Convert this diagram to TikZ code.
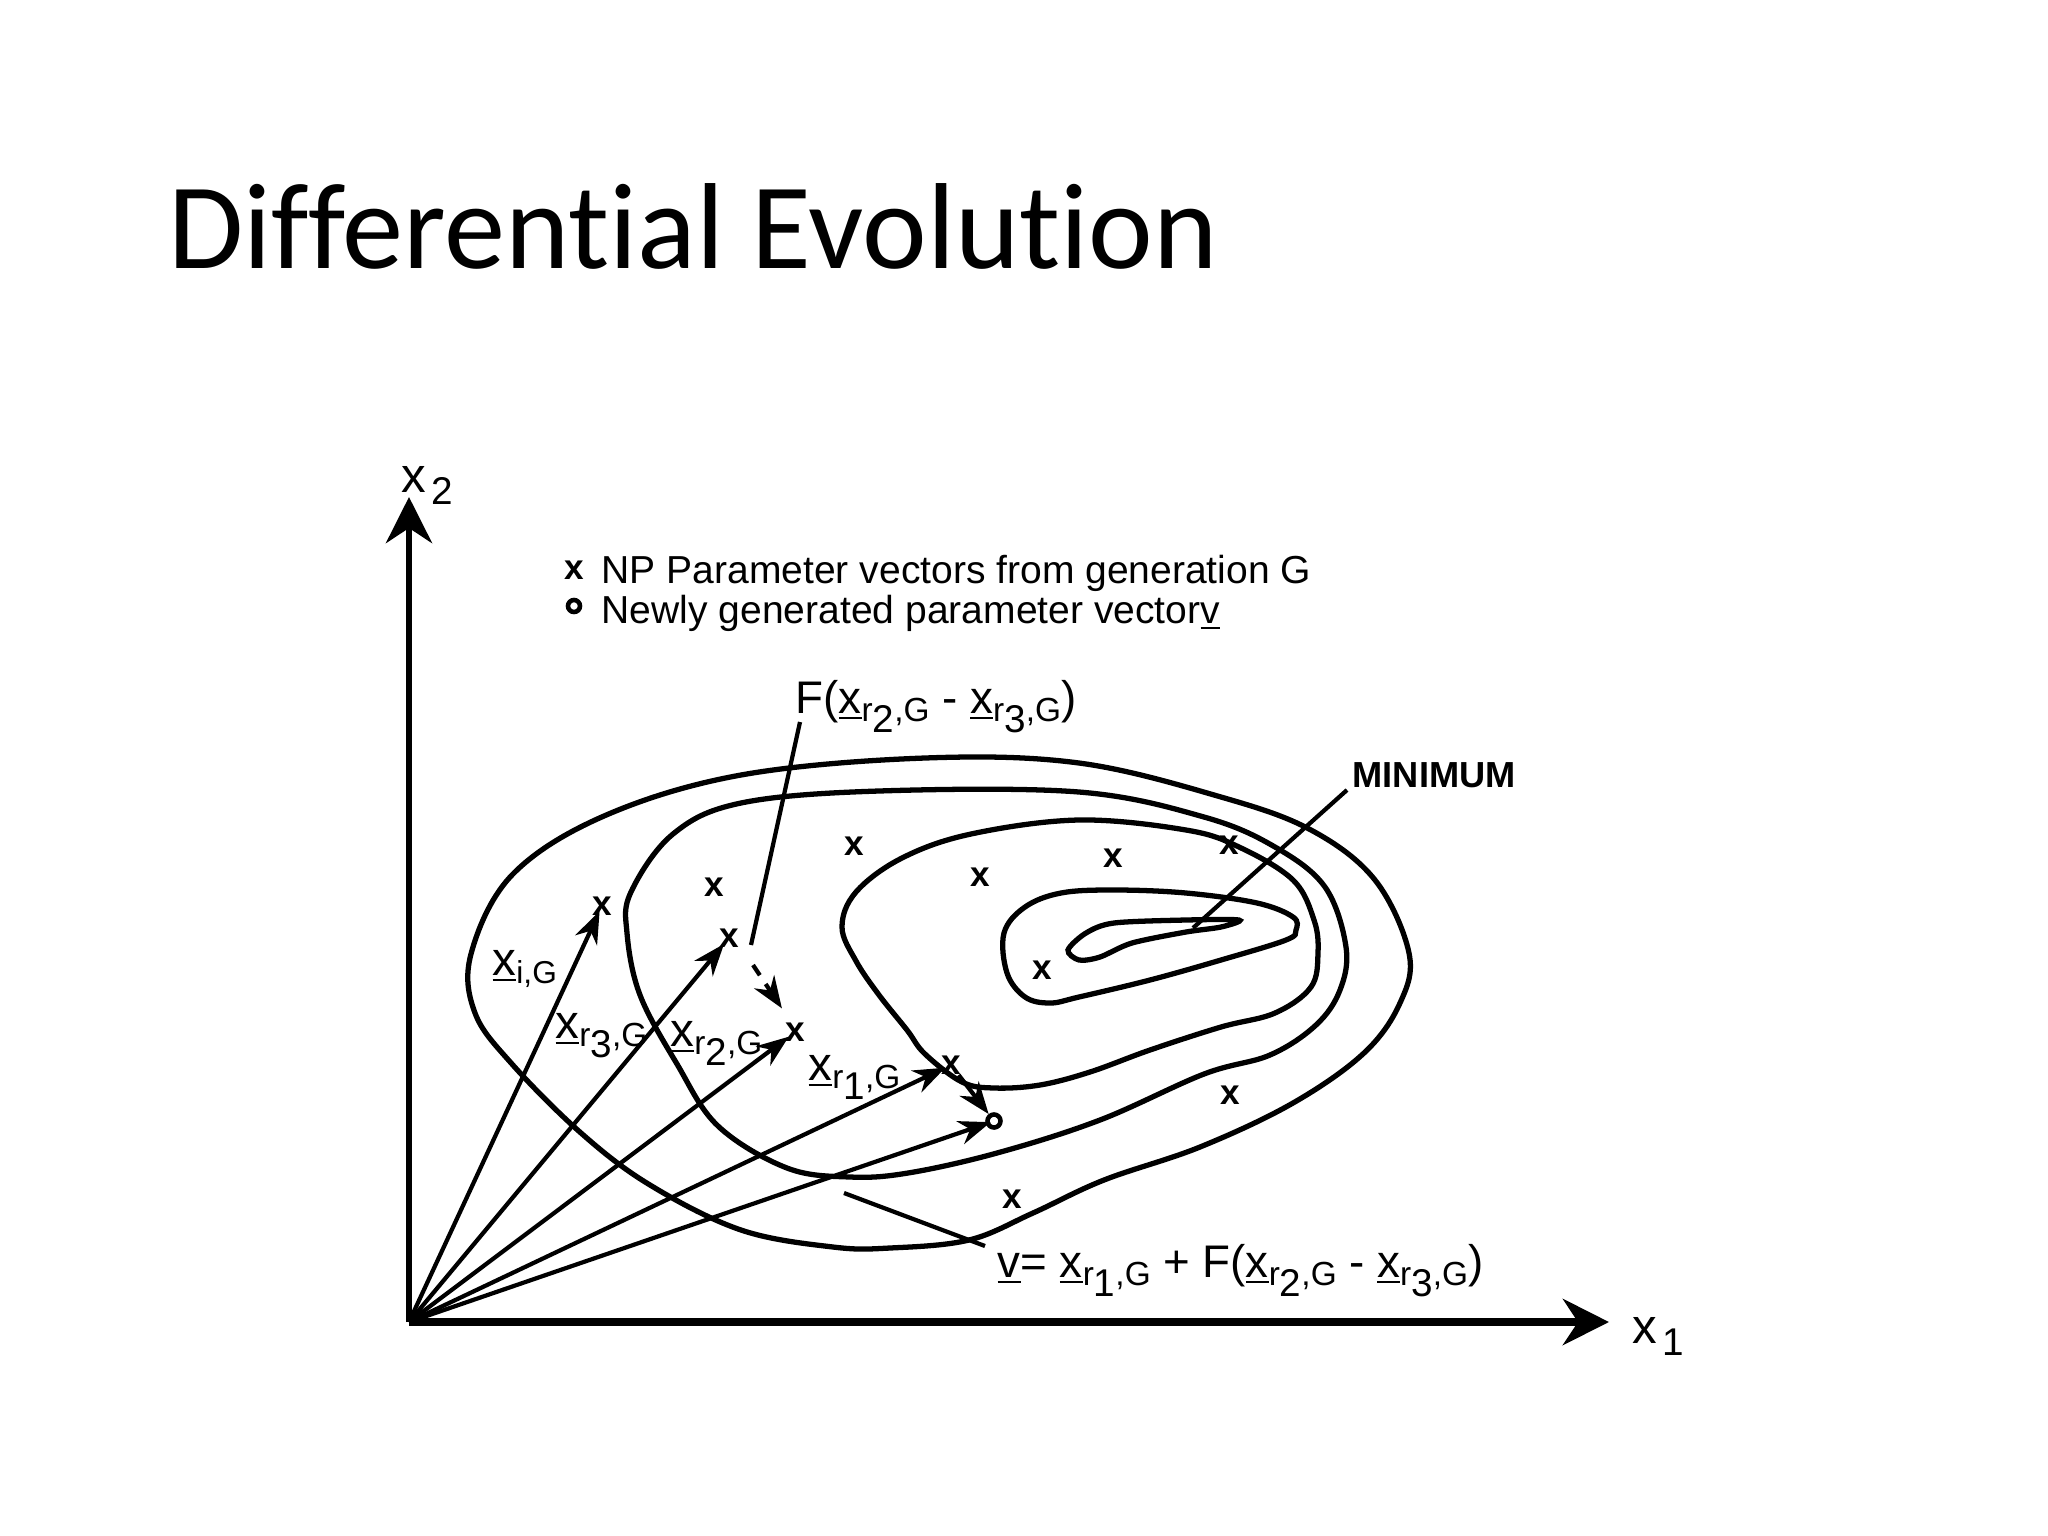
\documentclass[tikz,border=0pt]{standalone}
\usepackage{fontspec}
\setmainfont{Liberation Sans}
\newfontfamily\titlefont[Ligatures=NoCommon]{Carlito}
\usetikzlibrary{arrows.meta}

% underlined vector x with subscripts
\newcommand{\xsub}[1]{\underline{x}\raisebox{-2.4pt}{\fontsize{9}{9}\selectfont #1}}
\newcommand{\xr}[1]{\underline{x}\raisebox{-2.4pt}{\fontsize{9.5}{9.5}\selectfont r\raisebox{-3.2pt}{\fontsize{11}{11}\selectfont #1},G}}

\begin{document}
\begin{tikzpicture}[x=0.01cm, y=-0.01cm,
    popx/.style={font=\fontsize{10}{10}\selectfont\bfseries, inner sep=0pt},
    popo/.style={draw, circle, line width=1.3pt, inner sep=0pt, minimum size=1.3mm},
    contour/.style={line width=1.5pt},
    vec/.style={line width=1.2pt, shorten >=-1.5pt, -{Stealth[length=3.2mm,width=2.4mm]}},
    lbl/.style={font=\fontsize{13.5}{14}\selectfont, inner sep=0pt, anchor=base west}]
    \useasboundingbox (0,0) rectangle (2048,1536);

    % Title
    \node[anchor=base west, inner sep=0pt, font=\titlefont\fontsize{34.8}{40}\selectfont] (title) at (168,268) {Differential Evolution};

    % Axes
    \coordinate (O) at (409,1322);
    \coordinate (x2end) at (409,497);
    \coordinate (x1end) at (1609,1322);
    \draw[line width=1.8pt, -{Stealth[length=4.6mm,width=4.6mm,inset=1.5mm]}] (O) -- (x2end);
    \draw[line width=2.5pt, -{Stealth[length=4.6mm,width=4.6mm,inset=1.5mm]}] (O) -- (x1end);
    \node[anchor=base west, inner sep=0pt, font=\fontsize{14}{14}\selectfont] (x2lab) at (401,492) {x\kern1.5pt\raisebox{-3.5pt}{\fontsize{11}{11}\selectfont 2}};
    \node[anchor=base west, inner sep=0pt, font=\fontsize{14}{14}\selectfont] (x1lab) at (1632,1343) {x\kern1.5pt\raisebox{-3.5pt}{\fontsize{11}{11}\selectfont 1}};

    % Legend
    \node[popx] (lgx) at (574,570) {x};
    \node[popo, minimum size=1.2mm] (lgo) at (574,606) {};
    \node[anchor=base west, inner sep=0pt, font=\fontsize{11.1}{12}\selectfont] (lg1) at (601,583) {NP Parameter vectors from generation G};
    \node[anchor=base west, inner sep=0pt, font=\fontsize{11.1}{12}\selectfont] (lg2) at (601,623) {Newly generated parameter vector\underline{v}};

    % Contour lines
    \draw[contour] plot[smooth cycle, tension=0.6] coordinates {(925,758) (1079,763) (1221,797) (1311,830) (1375,880) (1409,953) (1400,1003) (1364,1053) (1293,1103) (1200,1147) (1104,1180) (1033,1213) (969,1240) (890,1248) (833,1247) (741,1230) (650,1185) (581,1133) (512,1064) (475,1013) (471,954) (512,875) (604,816) (741,775)};
    \draw[contour] plot[smooth cycle, tension=0.6] coordinates {(879,791) (1079,792) (1204,817) (1275,847) (1325,887) (1346,947) (1340,990) (1316,1025) (1270,1055) (1204,1074) (1100,1120) (997,1153) (908,1173) (850,1177) (787,1168) (718,1126) (677,1064) (640,995) (627,933) (631,892) (673,834) (741,803)};
    \draw[contour] plot[smooth cycle, tension=0.6] coordinates {(842,927) (856,892) (902,858) (971,834) (1079,820) (1186,830) (1239,847) (1293,880) (1314,920) (1318,953) (1311,987) (1275,1013) (1221,1027) (1150,1050) (1090,1072) (1040,1085) (994,1088) (962,1082) (925,1054) (907,1030) (879,995) (856,961)};
    \draw[contour] plot[smooth cycle, tension=0.6] coordinates {(1004,933) (1025,907) (1061,893) (1114,890) (1186,893) (1257,903) (1293,917) (1296,930) (1286,940) (1221,960) (1150,980) (1079,997) (1050,1003) (1025,997) (1007,973)};
    \draw[contour] plot[smooth cycle, tension=0.5] coordinates {(1068,950) (1086,933) (1114,923) (1186,920) (1239,920) (1221,927) (1186,932) (1132,943) (1100,957) (1079,960)};

    % Population members
    \node[popx] (xi) at (602,906) {x};
    \node[popx] (xr3) at (729,938) {x};
    \node[popx] (xr2) at (795,1032) {x};
    \node[popx] (xr1) at (951,1065) {x};
    \foreach \p [count=\i] in {(854,846),(714,887),(980,877),(1113,858),(1229,845),(1042,970),(1230,1095),(1012,1199)}
        \node[popx] (p\i) at \p {x};
    \node[popo] (v) at (994,1121) {};

    % Vectors
    \draw[vec] (O) -- (xi);
    \draw[vec] (O) -- (xr3);
    \draw[vec] (O) -- (xr2);
    \draw[vec] (O) -- (xr1);
    \draw[vec] (O) -- (v);
    \draw[vec, shorten >=0pt] (xr1) -- (v);
    \coordinate (d1) at (753,965);
    \coordinate (d2) at (779,1004);
    \draw[vec, dash pattern=on 3.5pt off 3pt] (d1) -- (d2);

    % Labels
    \node[lbl] (lxi) at (492,975) {\xsub{i,G}};
    \node[lbl] (lxr3) at (555,1038) {\xr{3}};
    \node[lbl] (lxr2) at (670,1046) {\xr{2}};
    \node[lbl] (lxr1) at (808,1080) {\xr{1}};
    \node[lbl, font=\fontsize{13}{14}\selectfont] (lF) at (795,713) {F(\xr{2} - \xr{3})};
    \node[lbl, font=\fontsize{13}{14}\selectfont] (lv) at (997,1277) {\underline{v}= \xr{1} + F(\xr{2} - \xr{3})};
    \node[anchor=base west, inner sep=0pt, font=\fontsize{10.3}{11}\selectfont\bfseries] (minlab) at (1352,787) {MINIMUM};

    % Pointer lines
    \coordinate (f1) at (800,722);
    \coordinate (f2) at (751,945);
    \draw[line width=1.2pt] (f1) -- (f2);
    \coordinate (v1) at (844,1193);
    \coordinate (v2) at (985,1246);
    \draw[line width=1.2pt] (v1) -- (v2);
    \coordinate (m1) at (1347,790);
    \coordinate (m2) at (1193,928);
    \draw[line width=1.2pt] (m1) -- (m2);
\end{tikzpicture}
\end{document}
